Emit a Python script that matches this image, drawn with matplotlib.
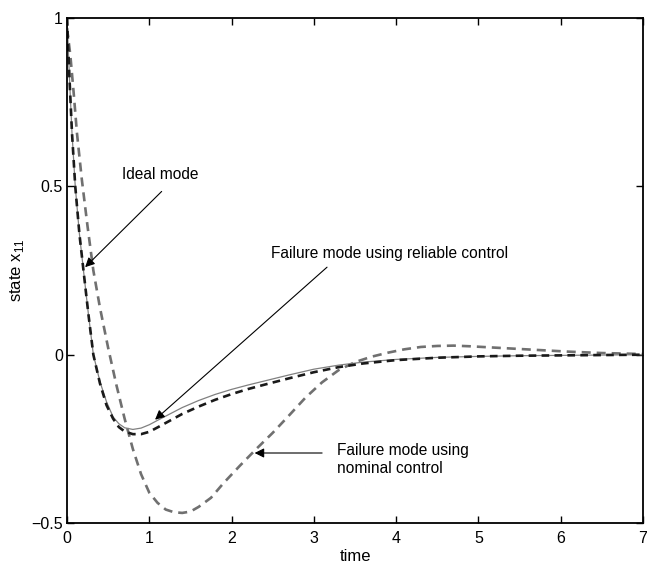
import matplotlib
matplotlib.use("Agg")
import matplotlib.pyplot as plt

plt.rcParams['font.family'] = ['Liberation Sans', 'DejaVu Sans']
plt.rcParams['mathtext.fontset'] = 'custom'
plt.rcParams['mathtext.rm'] = 'Liberation Sans'
plt.rcParams['lines.scale_dashes'] = False

# ideal mode (solid) and failure mode with reliable control (dark dashed)
t_fast = [0.0, 0.03, 0.06, 0.1, 0.15, 0.2, 0.26, 0.32, 0.4, 0.48, 0.56, 0.63, 0.7,
          0.8, 0.9, 1.0, 1.1, 1.25, 1.4, 1.6, 1.8, 2.0, 2.2, 2.4, 2.7, 3.0, 3.3,
          3.6, 4.0, 4.5, 5.0, 5.5, 6.0, 6.5, 7.0]
ideal = [1.0, 0.82, 0.66, 0.5, 0.36, 0.25, 0.12, 0.0, -0.08, -0.14, -0.185, -0.205,
         -0.217, -0.222, -0.218, -0.208, -0.195, -0.176, -0.157, -0.136, -0.118,
         -0.103, -0.09, -0.078, -0.06, -0.043, -0.031, -0.022, -0.014, -0.008,
         -0.005, -0.003, -0.002, -0.001, 0.0]
reliable = [1.0, 0.82, 0.66, 0.5, 0.36, 0.25, 0.12, 0.0, -0.085, -0.15, -0.19, -0.215,
            -0.228, -0.236, -0.236, -0.229, -0.216, -0.196, -0.176, -0.154, -0.134,
            -0.117, -0.102, -0.089, -0.07, -0.052, -0.037, -0.026, -0.016, -0.009,
            -0.005, -0.003, -0.002, -0.001, 0.0]

# failure mode with nominal control (gray dashed)
t_nom = [0.0, 0.04, 0.08, 0.12, 0.18, 0.25, 0.32, 0.4, 0.5, 0.6, 0.7, 0.8, 0.9, 1.0,
         1.1, 1.2, 1.3, 1.4, 1.5, 1.6, 1.75, 1.9, 2.1, 2.3, 2.5, 2.7, 2.9, 3.1, 3.3,
         3.5, 3.7, 3.9, 4.1, 4.3, 4.5, 4.7, 4.9, 5.2, 5.5, 5.8, 6.1, 6.5, 7.0]
nominal = [0.97, 0.89, 0.78, 0.66, 0.52, 0.38, 0.25, 0.14, 0.02, -0.09, -0.19, -0.28,
           -0.355, -0.41, -0.44, -0.46, -0.468, -0.47, -0.466, -0.452, -0.425, -0.382,
           -0.33, -0.28, -0.232, -0.18, -0.127, -0.082, -0.046, -0.022, -0.006, 0.006,
           0.016, 0.023, 0.026, 0.027, 0.025, 0.021, 0.017, 0.013, 0.009, 0.005, 0.002]

fig = plt.figure(figsize=(6.47, 5.65), dpi=100)
ax = fig.add_axes([0.1036, 0.0743, 0.8902, 0.8937])

ax.plot(t_nom, nominal, color='#707070', lw=1.9, dashes=(6.5, 4.3))
ax.plot(t_fast, ideal, color='#808080', lw=0.9)
ax.plot(t_fast, reliable, color='#1a1a1a', lw=1.9, dashes=(5.5, 3.8))

ax.set_xlim(0, 7)
ax.set_ylim(-0.5, 1)
ax.set_xticks(range(8))
ax.set_yticks([-0.5, 0, 0.5, 1])
ax.set_yticklabels(['\u22120.5', '0', '0.5', '1'])
ax.tick_params(direction='in', top=True, right=True, length=5, width=1,
               labelsize=11.5)
ax.tick_params(axis='x', pad=6)
ax.tick_params(axis='y', pad=3)
for s in ax.spines.values():
    s.set_linewidth(1.3)

ax.set_xlabel('time', fontsize=12, labelpad=2)
ax.set_ylabel(r'state x$_{\mathregular{11}}$', fontsize=12, labelpad=4)

arrow = dict(arrowstyle='-|>', color='k', lw=0.8, mutation_scale=14,
             shrinkA=0, shrinkB=0)
ax.annotate('Ideal mode', xy=(0.22, 0.26), xytext=(0.67, 0.535),
            fontsize=11.2, va='center', ha='left')
ax.annotate('', xy=(0.22, 0.26), xytext=(1.15, 0.485), arrowprops=arrow)

ax.annotate('Failure mode using reliable control', xy=(1.07, -0.193),
            xytext=(2.48, 0.30), fontsize=11.2, va='center', ha='left')
ax.annotate('', xy=(1.07, -0.193), xytext=(3.16, 0.26), arrowprops=arrow)

ax.text(3.28, -0.31, 'Failure mode using\nnominal control', fontsize=11.2,
        va='center', ha='left', linespacing=1.25)
ax.annotate('', xy=(2.28, -0.292), xytext=(3.1, -0.292), arrowprops=arrow)

fig.savefig('out.png', dpi=100)
